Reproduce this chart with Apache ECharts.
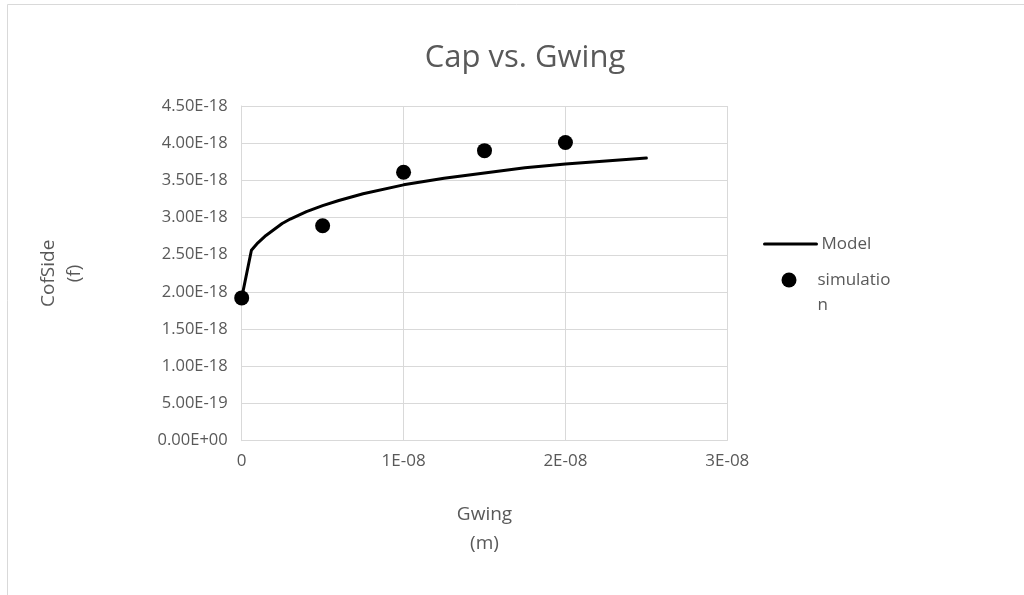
<!DOCTYPE html>
<html>
<head>
<meta charset="utf-8">
<script src="https://cdn.jsdelivr.net/npm/echarts@6/dist/echarts.min.js"></script>
<style>html,body{margin:0;padding:0;background:#fff}#c{width:1024px;height:595px}</style>
</head>
<body>
<div id="c"></div>
<script>
// Model curve (Gwing in m, CofSide in F)
const modelX = [0, 6e-10, 1e-9, 1.5e-9, 2e-9, 2.5e-9, 3e-9, 4e-9, 5e-9, 6e-9, 7.5e-9, 1e-8, 1.25e-8, 1.5e-8, 1.75e-8, 2e-8, 2.25e-8, 2.5e-8];
const modelY = [1.92e-18, 2.56e-18, 2.66e-18, 2.76e-18, 2.84e-18, 2.92e-18, 2.98e-18, 3.08e-18, 3.16e-18, 3.23e-18, 3.32e-18, 3.44e-18, 3.53e-18, 3.60e-18, 3.67e-18, 3.72e-18, 3.76e-18, 3.80e-18];
// Simulation points
const simX = [0, 5e-9, 1e-8, 1.5e-8, 2e-8];
const simY = [1.92e-18, 2.89e-18, 3.61e-18, 3.90e-18, 4.01e-18];
// Axis settings
const xTicks = {min: 0, max: 3e-8, interval: 1e-8};
const yTicks = {min: 0, max: 4.5e-18, interval: 5e-19};

const FONT = "'Open Sans', 'Noto Sans', sans-serif";
const TXT = '#595959';
const GRID = '#d9d9d9';

function fmtExp(v, digits) {
  const s = v.toExponential(digits).split('e');
  let e = parseInt(s[1], 10);
  const sign = e < 0 ? '-' : '+';
  e = Math.abs(e);
  return s[0] + 'E' + sign + (e < 10 ? '0' + e : '' + e);
}
function fmtY(v) {
  if (Math.abs(v) < 1e-30) return '0.00E+00';
  return fmtExp(v, 2);
}
function fmtX(v) {
  if (Math.abs(v) < 1e-20) return '0';
  return fmtExp(v, 0);
}

const chart = echarts.init(document.getElementById('c'), null, {renderer: 'canvas'});
chart.setOption({
  animation: false,
  backgroundColor: '#fff',
  textStyle: {fontFamily: FONT},
  title: {
    text: 'Cap vs. Gwing',
    left: 520, top: 38, textAlign: 'center',
    textStyle: {fontFamily: FONT, fontSize: 31, fontWeight: 'normal', color: TXT}
  },
  graphic: [{
    type: 'rect', silent: true, z: -10,
    shape: {x: 7.5, y: 4.5, width: 1100, height: 700},
    style: {fill: null, stroke: GRID, lineWidth: 1}
  }],
  grid: {left: 241.7, right: 296.7, top: 106, bottom: 154.3, containLabel: false},
  xAxis: {
    type: 'value', min: xTicks.min, max: xTicks.max, interval: xTicks.interval,
    name: 'Gwing\n(m)', nameLocation: 'middle', nameGap: 59,
    nameTextStyle: {fontFamily: FONT, fontSize: 19, color: TXT, lineHeight: 29},
    axisLine: {show: true, lineStyle: {color: GRID, width: 1}},
    axisTick: {show: false},
    axisLabel: {formatter: fmtX, fontFamily: FONT, fontSize: 17, color: TXT, margin: 12},
    splitLine: {show: true, lineStyle: {color: GRID, width: 1}}
  },
  yAxis: {
    type: 'value', min: yTicks.min, max: yTicks.max, interval: yTicks.interval,
    name: 'CofSide\n(f)', nameLocation: 'middle', nameGap: 154, nameRotate: 90,
    nameTextStyle: {fontFamily: FONT, fontSize: 19, color: TXT, lineHeight: 26},
    axisLine: {show: true, lineStyle: {color: GRID, width: 1}},
    axisTick: {show: false},
    axisLabel: {formatter: fmtY, fontFamily: FONT, fontSize: 16.5, color: TXT, margin: 14},
    splitLine: {show: true, lineStyle: {color: GRID, width: 1}}
  },
  legend: [{
    data: ['Model'], orient: 'vertical', left: 763, top: 231.5, padding: 0,
    itemWidth: 52, itemHeight: 14,
    itemStyle: {color: 'rgba(0,0,0,0)', borderColor: 'rgba(0,0,0,0)', borderWidth: 0},
    lineStyle: {color: '#000', width: 3},
    textStyle: {fontFamily: FONT, fontSize: 17, color: TXT, lineHeight: 25}
  }, {
    data: ['simulation'], orient: 'vertical', left: 781.5, top: 242.5, padding: 0,
    itemWidth: 15, itemHeight: 15,
    formatter: function (n) { return n === 'simulation' ? '\nsimulatio\nn' : n; },
    itemStyle: {color: '#000', opacity: 1},
    textStyle: {fontFamily: FONT, fontSize: 17, color: TXT, lineHeight: 25, padding: [0, 0, 0, 16]}
  }],
  series: [{
    name: 'Model', type: 'line',
    data: modelX.map((x, i) => [x, modelY[i]]),
    symbol: 'none', smooth: false,
    lineStyle: {color: '#000', width: 3, cap: 'round', join: 'round'},
    itemStyle: {color: '#000'}, z: 2
  }, {
    name: 'simulation', type: 'scatter',
    data: simX.map((x, i) => [x, simY[i]]),
    symbol: 'circle', symbolSize: 15,
    itemStyle: {color: '#000', opacity: 1}, z: 3
  }]
});
</script>
</body>
</html>
